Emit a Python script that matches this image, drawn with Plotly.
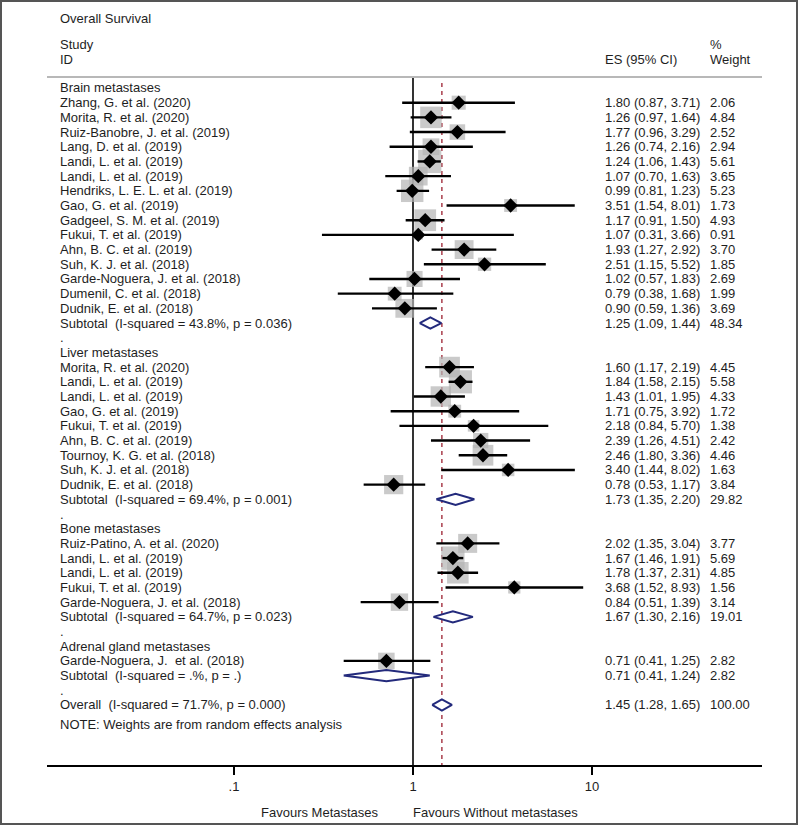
import math
import plotly.graph_objects as go

# ---------------- data ----------------
brain_study = ["Zhang, G. et al. (2020)", "Morita, R. et al. (2020)", "Ruiz-Banobre, J. et al. (2019)",
               "Lang, D. et al. (2019)", "Landi, L. et al. (2019)", "Landi, L. et al. (2019)",
               "Hendriks, L. E. L. et al. (2019)", "Gao, G. et al. (2019)", "Gadgeel, S. M. et al. (2019)",
               "Fukui, T. et al. (2019)", "Ahn, B. C. et al. (2019)", "Suh, K. J. et al. (2018)",
               "Garde-Noguera, J. et al. (2018)", "Dumenil, C. et al. (2018)", "Dudnik, E. et al. (2018)"]
brain_es = [1.80, 1.26, 1.77, 1.26, 1.24, 1.07, 0.99, 3.51, 1.17, 1.07, 1.93, 2.51, 1.02, 0.79, 0.90]
brain_lo = [0.87, 0.97, 0.96, 0.74, 1.06, 0.70, 0.81, 1.54, 0.91, 0.31, 1.27, 1.15, 0.57, 0.38, 0.59]
brain_hi = [3.71, 1.64, 3.29, 2.16, 1.43, 1.63, 1.23, 8.01, 1.50, 3.66, 2.92, 5.52, 1.83, 1.68, 1.36]
brain_w = [2.06, 4.84, 2.52, 2.94, 5.61, 3.65, 5.23, 1.73, 4.93, 0.91, 3.70, 1.85, 2.69, 1.99, 3.69]
brain_sub = ("Subtotal\u00a0 (I-squared = 43.8%, p = 0.036)", 1.25, 1.09, 1.44, 48.34)

liver_study = ["Morita, R. et al. (2020)", "Landi, L. et al. (2019)", "Landi, L. et al. (2019)",
               "Gao, G. et al. (2019)", "Fukui, T. et al. (2019)", "Ahn, B. C. et al. (2019)",
               "Tournoy, K. G. et al. (2018)", "Suh, K. J. et al. (2018)", "Dudnik, E. et al. (2018)"]
liver_es = [1.60, 1.84, 1.43, 1.71, 2.18, 2.39, 2.46, 3.40, 0.78]
liver_lo = [1.17, 1.58, 1.01, 0.75, 0.84, 1.26, 1.80, 1.44, 0.53]
liver_hi = [2.19, 2.15, 1.95, 3.92, 5.70, 4.51, 3.36, 8.02, 1.17]
liver_w = [4.45, 5.58, 4.33, 1.72, 1.38, 2.42, 4.46, 1.63, 3.84]
liver_sub = ("Subtotal\u00a0 (I-squared = 69.4%, p = 0.001)", 1.73, 1.35, 2.20, 29.82)

bone_study = ["Ruiz-Patino, A. et al. (2020)", "Landi, L. et al. (2019)", "Landi, L. et al. (2019)",
              "Fukui, T. et al. (2019)", "Garde-Noguera, J. et al. (2018)"]
bone_es = [2.02, 1.67, 1.78, 3.68, 0.84]
bone_lo = [1.35, 1.46, 1.37, 1.52, 0.51]
bone_hi = [3.04, 1.91, 2.31, 8.93, 1.39]
bone_w = [3.77, 5.69, 4.85, 1.56, 3.14]
bone_sub = ("Subtotal\u00a0 (I-squared = 64.7%, p = 0.023)", 1.67, 1.30, 2.16, 19.01)

adrenal_study = ["Garde-Noguera, J.\u00a0 et al. (2018)"]
adrenal_es = [0.71]
adrenal_lo = [0.41]
adrenal_hi = [1.25]
adrenal_w = [2.82]
adrenal_sub = ("Subtotal\u00a0 (I-squared = .%, p = .)", 0.71, 0.41, 1.24, 2.82)

overall = ("Overall\u00a0 (I-squared = 71.7%, p = 0.000)", 1.45, 1.28, 1.65, 100.00)

groups = [
    ("Brain metastases", brain_study, brain_es, brain_lo, brain_hi, brain_w, brain_sub),
    ("Liver metastases", liver_study, liver_es, liver_lo, liver_hi, liver_w, liver_sub),
    ("Bone metastases", bone_study, bone_es, bone_lo, bone_hi, bone_w, bone_sub),
    ("Adrenal gland metastases", adrenal_study, adrenal_es, adrenal_lo, adrenal_hi, adrenal_w, adrenal_sub),
]

tick_vals = [0.1, 1, 10]
tick_text = [".1", "1", "10"]

# ---------------- layout helpers ----------------
W, H = 800, 826
FONT = "Arial, Liberation Sans, sans-serif"
TXT = "#1e1e1e"
ROW0_PX, ROW_PX = 88.0, 14.69
X_ONE_PX, DECADE_PX = 413.0, 179.0
PLOT_L, PLOT_R, PLOT_T, PLOT_B = 47, 762, 77, 765
COL_STUDY, COL_ES, COL_W = 58, 603, 708

def px2row(p):
    return (p - ROW0_PX) / ROW_PX

def px2lx(p):
    return (p - X_ONE_PX) / DECADE_PX

# ---------------- build rows ----------------
text_rows = []  # (row, left, es_text, w_text)
st_y, st_es, st_lo, st_hi, st_w = [], [], [], [], []
dia = []  # (row, es, lo, hi)

r = 0
for name, studies, es, lo, hi, w, sub in groups:
    text_rows.append((r, name, "", ""))
    r += 1
    for s, e, l, h, ww in zip(studies, es, lo, hi, w):
        text_rows.append((r, s, f"{e:.2f} ({l:.2f}, {h:.2f})", f"{ww:.2f}"))
        st_y.append(r); st_es.append(e); st_lo.append(l); st_hi.append(h); st_w.append(ww)
        r += 1
    lab, e, l, h, ww = sub
    text_rows.append((r, lab, f"{e:.2f} ({l:.2f}, {h:.2f})", f"{ww:.2f}"))
    dia.append((r, e, l, h))
    r += 1
    text_rows.append((r, ".", "", ""))
    r += 1
lab, e, l, h, ww = overall
text_rows.append((r, lab, f"{e:.2f} ({l:.2f}, {h:.2f})", f"{ww:.2f}"))
dia.append((r, e, l, h))
overall_row = r
note_row = px2row(724)

fig = go.Figure()

# weight squares
fig.add_trace(go.Scatter(
    x=st_es, y=st_y, mode="markers", hoverinfo="skip",
    marker=dict(symbol="square", color="#b3b3b3", size=[9.8 * math.sqrt(w) for w in st_w],
                line=dict(width=0))))

# CI lines
cx, cy = [], []
for yy, l, h in zip(st_y, st_lo, st_hi):
    cx += [l, h, None]
    cy += [yy, yy, None]
fig.add_trace(go.Scatter(x=cx, y=cy, mode="lines", hoverinfo="skip",
                         line=dict(color="black", width=2.4)))

# point estimates
fig.add_trace(go.Scatter(x=st_es, y=st_y, mode="markers", hoverinfo="skip",
                         marker=dict(symbol="diamond", color="black", size=11, line=dict(width=0))))

# pooled diamonds
dx, dy = [], []
hh = 0.38
for yy, e, l, h in dia:
    dx += [l, e, h, e, l, None]
    dy += [yy, yy - hh, yy, yy + hh, yy, None]
fig.add_trace(go.Scatter(x=dx, y=dy, mode="lines", fill="toself", fillcolor="white",
                         hoverinfo="skip", line=dict(color="#232a7c", width=2)))

# reference lines
shapes = [
    dict(type="line", xref="x", yref="y", x0=1, x1=1, y0=px2row(PLOT_T), y1=px2row(PLOT_B),
         line=dict(color="black", width=1.6), layer="below"),
    dict(type="line", xref="x", yref="y", x0=overall[1], x1=overall[1], y0=px2row(83), y1=px2row(PLOT_B),
         line=dict(color="#a3303f", width=1.4, dash="4px,4px"), layer="below"),
    dict(type="line", xref="paper", yref="paper", x0=PLOT_L / W, x1=PLOT_R / W,
         y0=1 - PLOT_T / H, y1=1 - PLOT_T / H, line=dict(color="#b8b8b8", width=2)),
    dict(type="rect", xref="paper", yref="paper", x0=1 / W, x1=797 / W, y0=1 - 824 / H, y1=1 - 1 / H,
         line=dict(color="#555555", width=2)),
]

ann = []
def add_text(xpx, y, text, yref="y", xanchor="left"):
    ann.append(dict(x=xpx / W, xref="paper", y=y, yref=yref, text=text, showarrow=False,
                    xanchor=xanchor, yanchor="middle", font=dict(family=FONT, size=13, color=TXT)))

for row, left, est, wt in text_rows:
    add_text(COL_STUDY, row, left)
    if est:
        add_text(COL_ES, row, est)
        add_text(COL_W, row, wt)
add_text(COL_STUDY, note_row, "NOTE: Weights are from random effects analysis")

# header
add_text(COL_STUDY, 1 - 18 / H, "Overall Survival", yref="paper")
add_text(COL_STUDY, 1 - 44 / H, "Study", yref="paper")
add_text(COL_STUDY, 1 - 60 / H, "ID", yref="paper")
add_text(COL_ES, 1 - 60 / H, "ES (95% CI)", yref="paper")
add_text(COL_W, 1 - 44 / H, "%", yref="paper")
add_text(COL_W, 1 - 60 / H, "Weight", yref="paper")
add_text(320, 1 - 812 / H, "Favours Metastases", yref="paper", xanchor="center")
add_text(495, 1 - 812 / H, "Favours Without metastases", yref="paper", xanchor="center")

fig.update_layout(
    width=W, height=H, margin=dict(l=0, r=0, t=0, b=0),
    paper_bgcolor="white", plot_bgcolor="white", showlegend=False,
    shapes=shapes, annotations=ann,
    xaxis=dict(type="log", domain=[PLOT_L / W, PLOT_R / W],
               range=[px2lx(PLOT_L), px2lx(PLOT_R)],
               showline=True, linecolor="black", linewidth=2, mirror=False,
               ticks="outside", ticklen=8, tickwidth=2, tickcolor="black",
               tickvals=tick_vals, ticktext=tick_text, showgrid=False, zeroline=False,
               tickfont=dict(family=FONT, size=13, color=TXT), fixedrange=True),
    yaxis=dict(domain=[1 - PLOT_B / H, 1 - PLOT_T / H],
               range=[px2row(PLOT_B), px2row(PLOT_T)],
               visible=False, showgrid=False, zeroline=False, fixedrange=True),
)

fig.write_html("out.html", config={"displayModeBar": False},
               post_script="document.body.style.margin='0px';document.body.style.overflow='hidden';")
